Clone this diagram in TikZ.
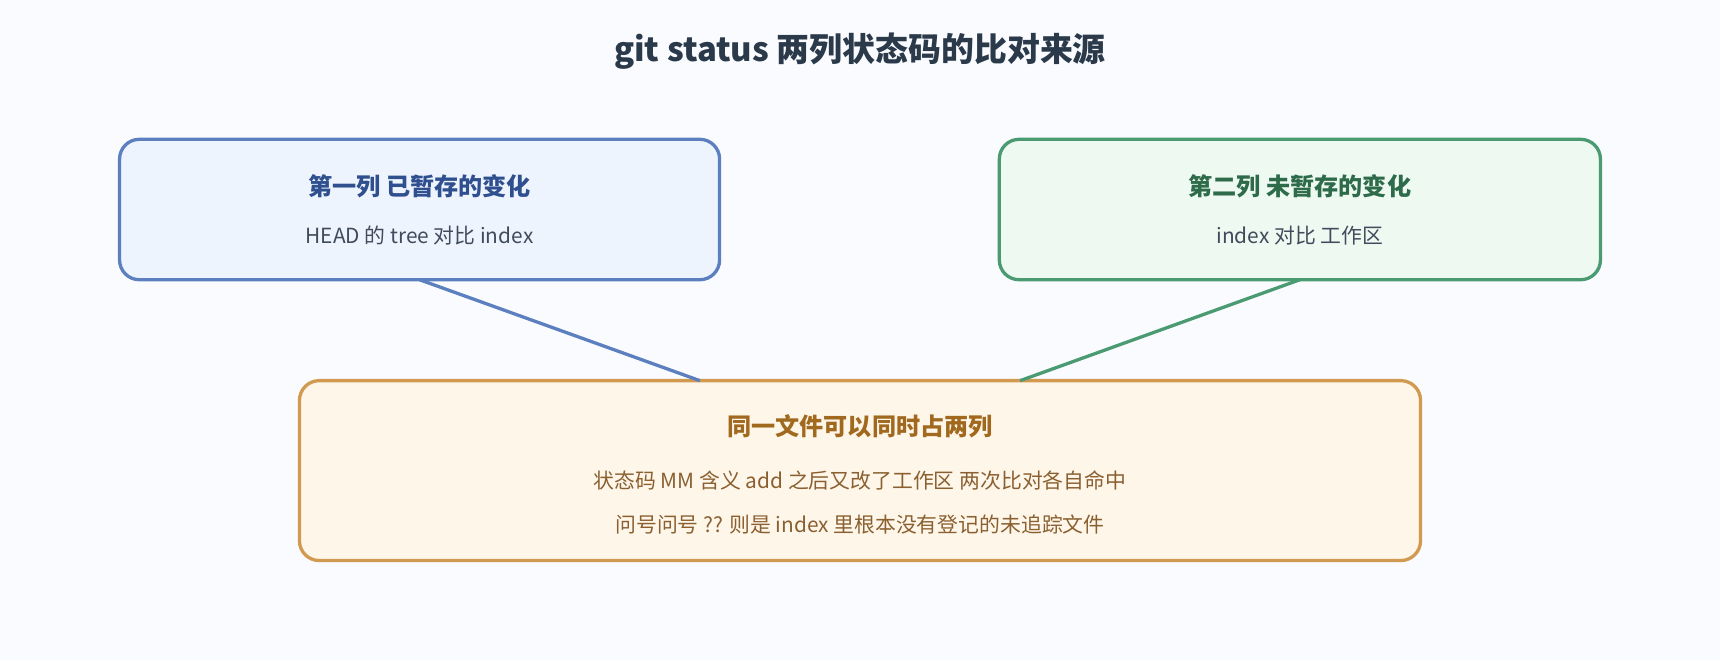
\documentclass[tikz,border=0pt]{standalone}
\usepackage{fontspec}
\setmainfont{Noto Sans CJK SC}
\usetikzlibrary{calc}
\definecolor{bg}{HTML}{FAFBFE}
\definecolor{ttl}{HTML}{2B3A4A}
\definecolor{bstroke}{HTML}{5B7FBF}\definecolor{bfill}{HTML}{EEF4FD}\definecolor{btxt}{HTML}{2F4F8F}
\definecolor{gstroke}{HTML}{4A9A72}\definecolor{gfill}{HTML}{EEF9F1}\definecolor{gtxt}{HTML}{2E6B4A}
\definecolor{ostroke}{HTML}{D19A50}\definecolor{ofill}{HTML}{FFF6EA}\definecolor{otxt}{HTML}{A0691E}\definecolor{obody}{HTML}{8A6030}
\definecolor{body}{HTML}{404B5C}
\begin{document}
\begin{tikzpicture}[x=1pt,y=-1pt,
  box/.style={rounded corners=18pt,line width=3pt,inner sep=0pt},
  conn/.style={line width=3pt}]
\fill[bg] (0,0) rectangle (1568,602);
\useasboundingbox (0,0) rectangle (1568,602);
\node[text=ttl,font=\fontsize{30}{36}\selectfont\bfseries] (title) at (784,47) {git status 两列状态码的比对来源};
\draw[box,draw=bstroke,fill=bfill] (109,127) rectangle (656,255);
\coordinate (lb) at (382.5,255);
\node[text=btxt,font=\fontsize{22}{26}\selectfont\bfseries] (lt) at (382.5,170) {第一列 已暂存的变化};
\node[text=body,font=\fontsize{19}{23}\selectfont] (ls) at (382.5,215) {HEAD 的 tree 对比 index};
\draw[box,draw=gstroke,fill=gfill] (911,127) rectangle (1459,255);
\coordinate (rb) at (1185,255);
\node[text=gtxt,font=\fontsize{22}{26}\selectfont\bfseries] (rt) at (1185,170) {第二列 未暂存的变化};
\node[text=body,font=\fontsize{19}{23}\selectfont] (rs) at (1185,215) {index 对比 工作区};
\draw[box,draw=ostroke,fill=ofill] (273,347) rectangle (1295,511);
\coordinate (bl) at (638,347);
\coordinate (br) at (930,347);
\node[text=otxt,font=\fontsize{22}{26}\selectfont\bfseries] (bt) at (784,389) {同一文件可以同时占两列};
\node[text=obody,font=\fontsize{19}{23}\selectfont] (b1) at (784,438) {状态码 MM 含义 add 之后又改了工作区 两次比对各自命中};
\node[text=obody,font=\fontsize{19}{23}\selectfont] (b2) at (784,478) {问号问号 ?? 则是 index 里根本没有登记的未追踪文件};
\draw[conn,bstroke] (lb) -- (bl);
\draw[conn,gstroke] (rb) -- (br);
\end{tikzpicture}
\end{document}
